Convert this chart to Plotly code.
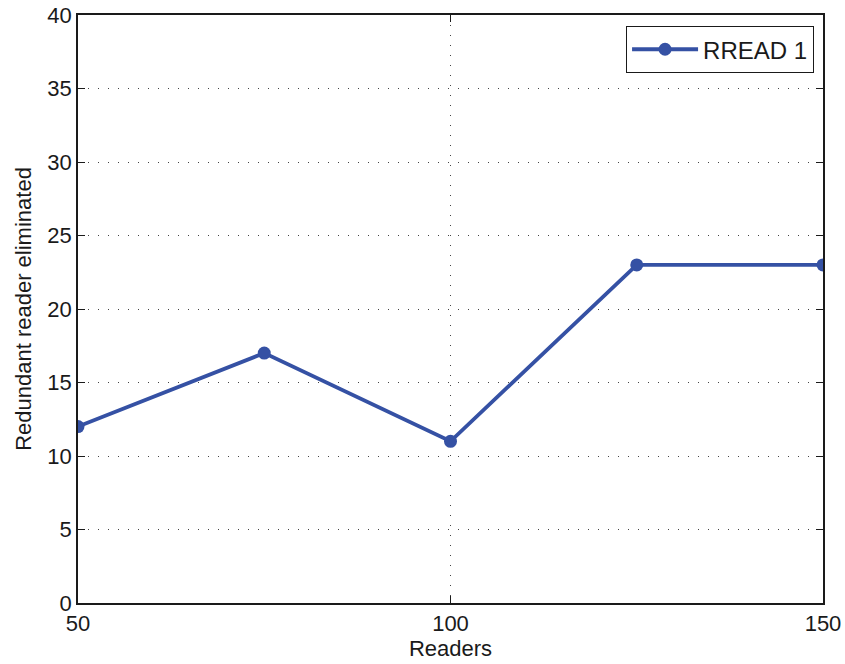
import plotly.graph_objects as go

# Readers deployed vs. redundant readers eliminated by RREAD
readers = [50, 75, 100, 125, 150]
eliminated = [12, 17, 11, 23, 23]
series_name = "RREAD 1"

x_ticks = [50, 100, 150]
y_ticks = [0, 5, 10, 15, 20, 25, 30, 35, 40]

line_color = "#3551A4"
font = dict(family="Liberation Sans, Arial, sans-serif", size=22, color="#1a1a1a")
legend_font = dict(family="Liberation Sans, Arial, sans-serif", size=24, color="#1a1a1a")

fig = go.Figure()
fig.add_trace(go.Scatter(
    x=readers, y=eliminated, name=series_name,
    mode="lines+markers",
    line=dict(color=line_color, width=3.8),
    marker=dict(color=line_color, size=13),
))

axis_common = dict(
    showline=True, linecolor="#1a1a1a", linewidth=1.5, mirror="allticks",
    ticks="inside", ticklen=7, tickwidth=1, tickcolor="#1a1a1a",
    showgrid=True, gridcolor="#444444", gridwidth=1, griddash="1px,9px",
    zeroline=False, tickfont=font, automargin=False,
)

fig.update_layout(
    template="none",
    width=845, height=664,
    margin=dict(l=78, r=22, t=15, b=61),
    plot_bgcolor="white", paper_bgcolor="white",
    font=font,
    showlegend=True,
    legend=dict(
        x=0.988, y=0.981, xanchor="right", yanchor="top",
        bordercolor="#1a1a1a", borderwidth=1, bgcolor="white",
        font=legend_font, itemwidth=66,
    ),
    xaxis=dict(
        range=[50, 150], tickvals=x_ticks, ticktext=[str(v) for v in x_ticks],
        title=dict(text="Readers", font=font, standoff=4),
        **axis_common,
    ),
    yaxis=dict(
        range=[0, 40], tickvals=y_ticks, ticktext=[str(v) for v in y_ticks],
        title=dict(text="Redundant reader eliminated", font=font, standoff=10),
        **axis_common,
    ),
)

fig.write_html("out.html")
